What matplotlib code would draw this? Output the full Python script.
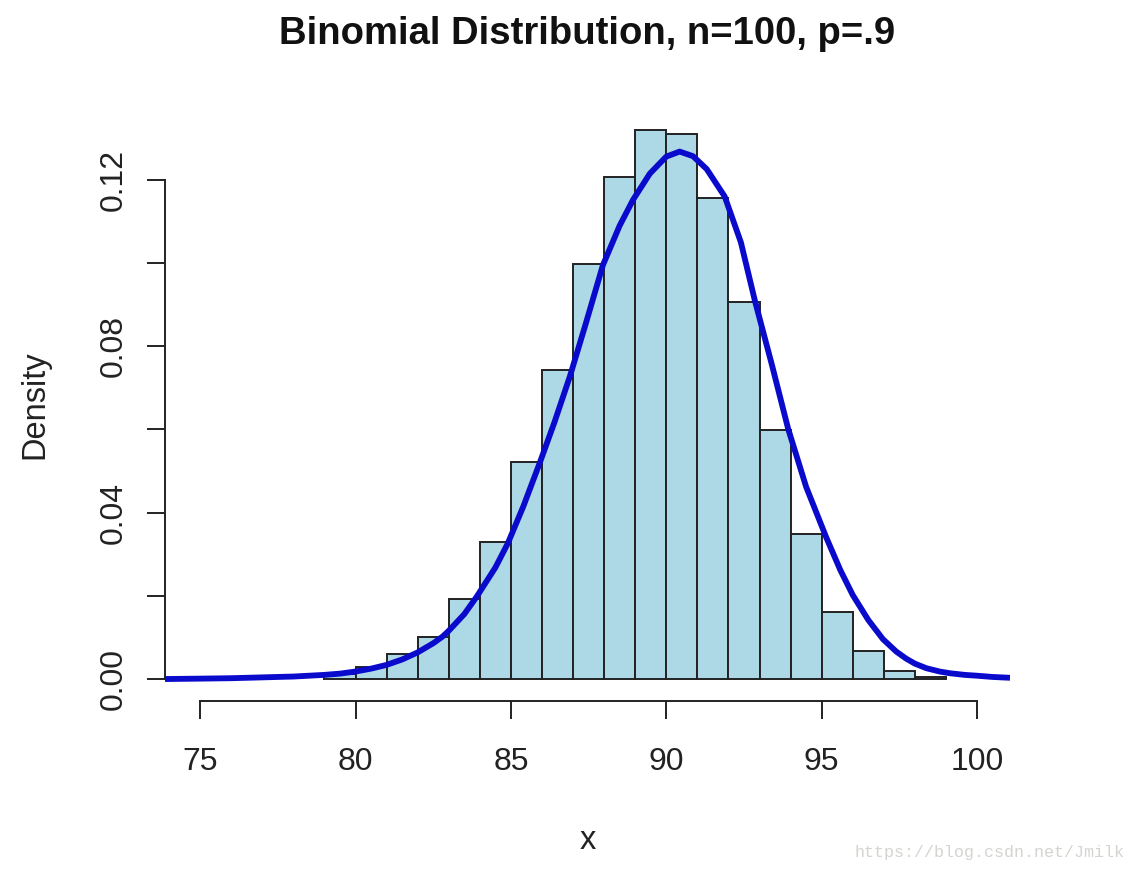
import matplotlib
matplotlib.use("Agg")
import matplotlib.pyplot as plt
import numpy as np

# ---- data ----
bin_left = [79, 80, 81, 82, 83, 84, 85, 86, 87, 88, 89, 90, 91, 92, 93, 94, 95, 96, 97, 98]
density = [0.0012, 0.0028, 0.0059, 0.0102, 0.0192, 0.0330, 0.0522, 0.0743, 0.0998, 0.1207,
           0.1320, 0.1311, 0.1157, 0.0907, 0.0599, 0.0349, 0.0161, 0.0068, 0.0019, 0.0006]
curve_x = [73.87, 75.0, 76.0, 77.0, 78.0, 79.0, 79.5, 80.0, 80.5, 81.0, 81.5, 82.0, 82.5,
           82.8, 83.0, 83.5, 83.9, 84.5, 84.9, 85.4, 85.93, 86.4, 86.9, 87.4, 87.96, 88.5,
           88.93, 89.47, 90.0, 90.43, 90.86, 91.3, 91.88, 92.4, 92.85, 93.4, 93.92, 94.5,
           95.15, 95.6, 96.0, 96.5, 96.97, 97.4, 97.72, 98.0, 98.37, 98.8, 99.12, 99.6,
           100.0, 100.5, 101.06]
curve_y = [0.0000, 0.0001, 0.0002, 0.0004, 0.0006, 0.0010, 0.0013, 0.0018, 0.0025, 0.0034,
           0.0047, 0.0064, 0.0086, 0.0102, 0.0116, 0.0156, 0.0198, 0.0268, 0.0326, 0.0415,
           0.0520, 0.0617, 0.0728, 0.0852, 0.0995, 0.1090, 0.1152, 0.1215, 0.1256, 0.1268,
           0.1257, 0.1226, 0.1160, 0.1050, 0.0910, 0.0755, 0.0602, 0.0462, 0.0340, 0.0262,
           0.0202, 0.0142, 0.0096, 0.0066, 0.0049, 0.0037, 0.0026, 0.0018, 0.0014, 0.0010,
           0.0008, 0.0005, 0.0003]
xticks = [75, 80, 85, 90, 95, 100]
yticks = [0.00, 0.02, 0.04, 0.06, 0.08, 0.10, 0.12]
ytick_labels = ["0.00", "", "0.04", "", "0.08", "", "0.12"]
title = "Binomial Distribution, n=100, p=.9"

plt.rcParams['font.family'] = ['Liberation Sans', 'DejaVu Sans']

fig = plt.figure(figsize=(11.36, 8.72), dpi=100)
ax = fig.add_axes([165/1136, 1 - 701/872, (1010-165)/1136, (701-108)/872])

ax.bar(bin_left, density, width=1.0, align='edge', color='#ADD8E6',
       edgecolor='#222222', linewidth=1.4)
ax.plot(curve_x, curve_y, color='#0A0ACD', linewidth=4.2, solid_capstyle='butt',
        solid_joinstyle='round')

ax.set_xlim(73.87, 101.06)
ax.set_ylim(-0.00528, 0.13728)

for s in ['top', 'right']:
    ax.spines[s].set_visible(False)
ax.spines['left'].set_bounds(0, 0.12)
ax.spines['bottom'].set_bounds(75, 100)
for s in ['left', 'bottom']:
    ax.spines[s].set_linewidth(1.4)
    ax.spines[s].set_color('#222222')

ax.set_xticks(xticks)
ax.set_xticklabels([str(t) for t in xticks])
ax.set_yticks(yticks)
ax.set_yticklabels(ytick_labels, rotation=90, va='center')
ax.tick_params(axis='both', direction='out', length=13, width=1.4, color='#222222',
               labelsize=23, labelcolor='#222222')
ax.tick_params(axis='x', pad=20)
ax.tick_params(axis='y', pad=13)

ax.set_xlabel('x', fontsize=23.5, color='#222222')
ax.set_ylabel('Density', fontsize=23.5, color='#222222')
ax.xaxis.set_label_coords(0.5, (701 - 840) / 593)
ax.xaxis.label.set_va('center')
ax.yaxis.set_label_coords((35 - 165) / 845, 0.5)
ax.yaxis.label.set_va('center')

fig.text(0.5165, 1 - 34/872, title, ha='center', va='center', fontsize=27.5,
         fontweight='bold', color='#111111')

fig.text(1125/1136, 1 - 852/872, 'https://blog.csdn.net/Jmilk', ha='right', va='center',
         fontsize=12, color='#d4d4d0', family=['Liberation Mono', 'DejaVu Sans Mono'])

fig.savefig('out.png', dpi=100)
